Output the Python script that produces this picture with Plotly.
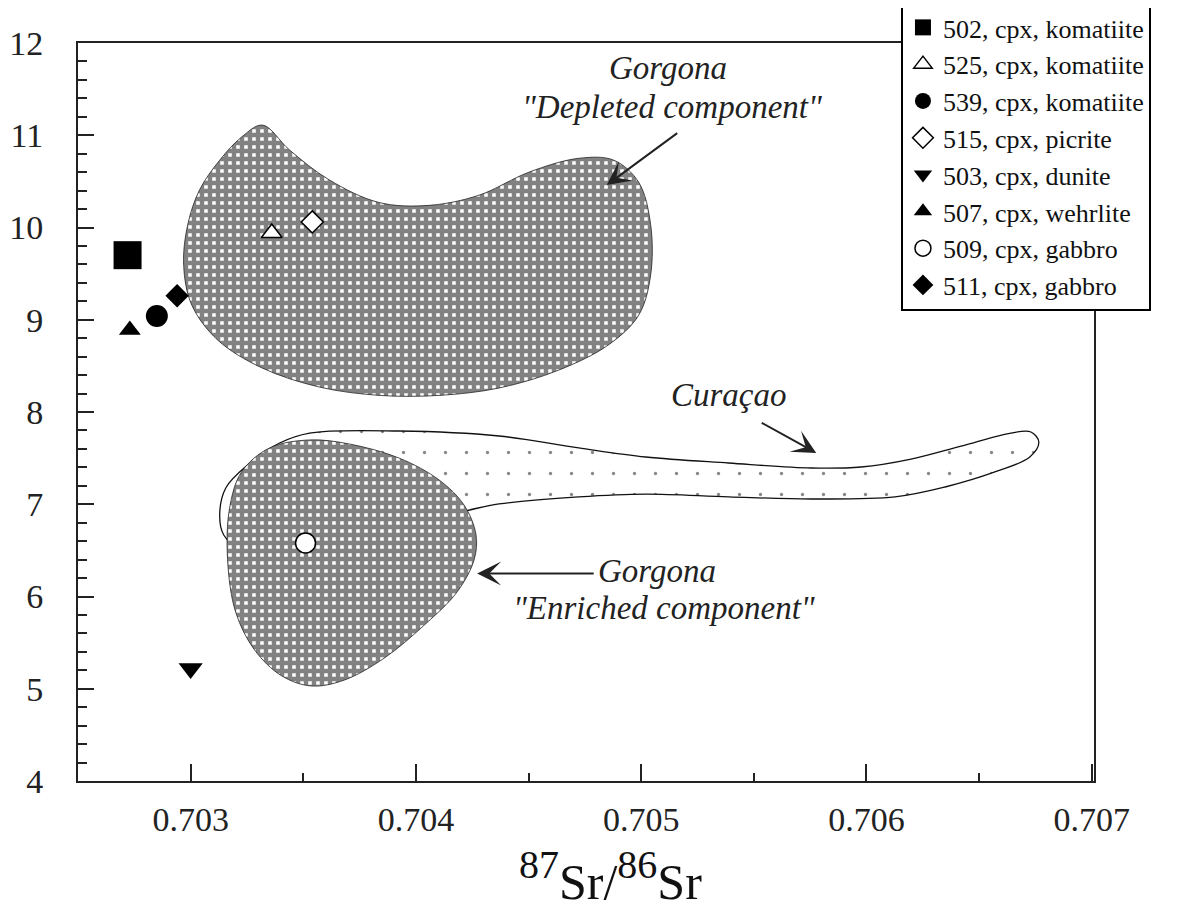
import plotly.graph_objects as go

# ---------------- data ----------------
# Gorgona "Depleted component" field outline
depleted_x = [0.703319, 0.703439, 0.703616, 0.703838, 0.704059, 0.704280, 0.704502,
              0.704723, 0.704878, 0.704989, 0.705042, 0.705042, 0.704989, 0.704856,
              0.704635, 0.704369, 0.704103, 0.703838, 0.703572, 0.703315, 0.703120,
              0.703005, 0.702969, 0.702987, 0.703040, 0.703129, 0.703226]
depleted_y = [11.11, 10.84, 10.515, 10.27, 10.24, 10.35, 10.60,
              10.75, 10.73, 10.49, 10.03, 9.485, 9.05, 8.73,
              8.455, 8.26, 8.18, 8.18, 8.27, 8.48, 8.78,
              9.16, 9.59, 10.03, 10.41, 10.73, 10.98]

# Gorgona "Enriched component" field outline
enriched_x = [0.703528, 0.703705, 0.703926, 0.704103, 0.704214, 0.704267, 0.704258,
              0.704183, 0.704037, 0.703860, 0.703683, 0.703536, 0.703404, 0.703284,
              0.703200, 0.703164, 0.703173, 0.703226, 0.703350]
enriched_y = [7.697, 7.653, 7.50, 7.263, 6.99, 6.667, 6.396,
              6.05, 5.69, 5.333, 5.095, 5.03, 5.14, 5.42,
              5.83, 6.40, 6.96, 7.35, 7.61]

# Curacao field outline
curacao_x = [0.703528, 0.703926, 0.704369, 0.704723, 0.705020, 0.705388, 0.705755,
             0.705977, 0.706198, 0.706420, 0.706641, 0.706730, 0.706765, 0.706725,
             0.706570, 0.706349, 0.706127, 0.705755, 0.705388, 0.705020, 0.704723,
             0.704369, 0.704192, 0.703705, 0.703218, 0.703147, 0.703129, 0.703156,
             0.703253, 0.703395]
curacao_y = [7.772, 7.794, 7.74, 7.61, 7.512, 7.447, 7.393,
             7.404, 7.49, 7.63, 7.772, 7.783, 7.675, 7.512,
             7.35, 7.187, 7.08, 7.057, 7.08, 7.11, 7.08,
             7.003, 6.916, 6.72, 6.526, 6.667, 6.883, 7.176,
             7.425, 7.664]

# Samples
sample_labels = ["502, cpx, komatiite", "525, cpx, komatiite", "539, cpx, komatiite",
                 "515, cpx, picrite", "503, cpx, dunite", "507, cpx, wehrlite",
                 "509, cpx, gabbro", "511, cpx, gabbro"]
sample_x = [0.70272, 0.70336, 0.70285, 0.70354, 0.70300, 0.70273, 0.70351, 0.70294]
sample_y = [9.70, 9.94, 9.04, 10.06, 5.22, 8.89, 6.58, 9.26]

# Axis ticks
x_tick_vals = [0.703, 0.704, 0.705, 0.706, 0.707]
x_tick_text = ["0.703", "0.704", "0.705", "0.706", "0.707"]
x_minor_vals = [0.7035, 0.7045, 0.7055, 0.7065]
y_tick_vals = [4, 5, 6, 7, 8, 9, 10, 11, 12]

# ---------------- styles ----------------
sample_styles = [
    dict(symbol="square", color="black", size=28),
    dict(symbol="triangle-up", color="white", size=18),
    dict(symbol="circle", color="black", size=22),
    dict(symbol="diamond", color="white", size=17),
    dict(symbol="triangle-down", color="black", size=21),
    dict(symbol="triangle-up", color="black", size=19),
    dict(symbol="circle", color="white", size=20),
    dict(symbol="diamond", color="black", size=18),
]

SERIF = "Liberation Serif, Times New Roman, serif"
HATCH = dict(shape="+", size=8, solidity=0.8, fgcolor="#050505", bgcolor="white")

fig = go.Figure()

def closed(a):
    return list(a) + [a[0]]

# Curacao (dotted) field
fig.add_trace(go.Scatter(
    x=closed(curacao_x), y=closed(curacao_y), mode="lines",
    line=dict(color="#111", width=1.3, shape="spline", smoothing=1),
    fill="toself", fillcolor="white",
    fillpattern=dict(shape=".", size=21, solidity=0.02, fgcolor="#111", bgcolor="white"),
    showlegend=False, hoverinfo="skip"))

# Enriched field (cross-hatched)
fig.add_trace(go.Scatter(
    x=closed(enriched_x), y=closed(enriched_y), mode="lines",
    line=dict(color="#222", width=0.8, shape="spline", smoothing=1),
    fill="toself", fillpattern=HATCH,
    showlegend=False, hoverinfo="skip"))

# Depleted field (cross-hatched)
fig.add_trace(go.Scatter(
    x=closed(depleted_x), y=closed(depleted_y), mode="lines",
    line=dict(color="#222", width=0.8, shape="spline", smoothing=1),
    fill="toself", fillpattern=HATCH,
    showlegend=False, hoverinfo="skip"))

# Samples
for i, (lab, xv, yv) in enumerate(zip(sample_labels, sample_x, sample_y)):
    st = sample_styles[i]
    fig.add_trace(go.Scatter(
        x=[xv], y=[yv], mode="markers", name=lab, legendgroup=f"g{i}",
        marker=dict(symbol=st["symbol"], color=st["color"], size=st["size"],
                    line=dict(color="black", width=1.5 if st["color"] == "white" else 0))))

annot_font = dict(family=SERIF, size=33, color="#222")
arrow_style = dict(text="", showarrow=True, arrowhead=3, arrowsize=2.0,
                   arrowwidth=2, arrowcolor="#222")
annotations = [
    dict(x=0.705120, y=11.73, text="<i>Gorgona</i>", showarrow=False, font=annot_font),
    dict(x=0.705135, y=11.31, text='<i>"Depleted component"</i>', showarrow=False, font=annot_font),
    dict(x=0.704847, y=10.46, ax=72, ay=-53, **arrow_style),
    dict(x=0.705388, y=8.18, text="<i>Curaçao</i>", showarrow=False, font=annot_font),
    dict(x=0.705777, y=7.556, ax=-56, ay=-31, **arrow_style),
    dict(x=0.705070, y=6.28, text="<i>Gorgona</i>", showarrow=False, font=annot_font),
    dict(x=0.7051, y=5.87, text='<i>"Enriched component"</i>', showarrow=False, font=annot_font),
    dict(x=0.704272, y=6.25, ax=118, ay=0, **arrow_style),
    dict(x=0.524, y=-0.178, xref="paper", yref="paper",
         text="<sup><span style='font-size:40px'>87</span></sup>Sr/"
              "<sup><span style='font-size:40px'>86</span></sup>Sr",
         showarrow=False, font=dict(family=SERIF, size=50, color="#111")),
]

fig.update_layout(
    width=1187, height=901,
    margin=dict(l=70, r=101, t=35, b=128, autoexpand=False),
    paper_bgcolor="white", plot_bgcolor="white",
    annotations=annotations,
    showlegend=True,
    legend=dict(x=0.810, y=1.0556, xanchor="left", yanchor="top",
                bgcolor="white", bordercolor="black", borderwidth=2,
                font=dict(family=SERIF, size=26, color="#111"),
                tracegroupgap=0, itemwidth=30, traceorder="grouped"),
    xaxis=dict(range=[0.7025, 0.70701], tickmode="array", tickvals=x_tick_vals,
               ticktext=x_tick_text, ticks="inside", ticklen=17, tickwidth=1.5,
               tickcolor="#222",
               minor=dict(ticks="inside", ticklen=8, tickwidth=1.5, tickcolor="#222",
                          tickmode="array", tickvals=x_minor_vals),
               showline=True, linecolor="#222", linewidth=2, mirror=True,
               showgrid=False, zeroline=False,
               tickfont=dict(family=SERIF, size=34, color="#222"),
               ticklabelstandoff=7),
    yaxis=dict(range=[4, 12], tickmode="array", tickvals=y_tick_vals,
               ticks="inside", ticklen=16, tickwidth=1.5, tickcolor="#222",
               minor=dict(ticks="inside", ticklen=9, tickwidth=1.5, tickcolor="#222",
                          dtick=0.2),
               showline=True, linecolor="#222", linewidth=2, mirror=True,
               showgrid=False, zeroline=False,
               tickfont=dict(family=SERIF, size=34, color="#222"),
               ticklabelstandoff=26),
)

fig.write_html("out.html")
